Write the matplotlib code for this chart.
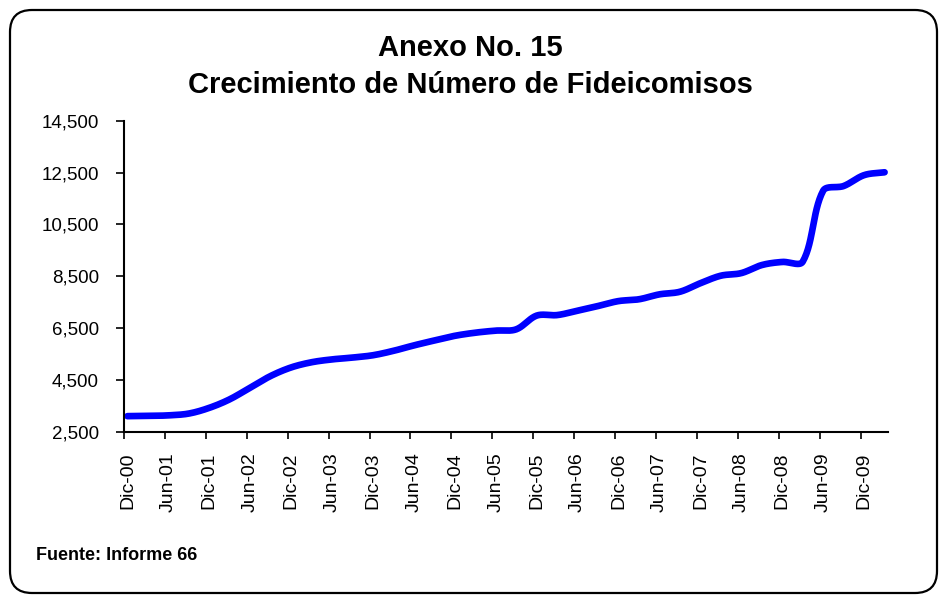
import numpy as np
import matplotlib
matplotlib.use("Agg")
import matplotlib.pyplot as plt
from matplotlib.patches import FancyBboxPatch
from matplotlib.transforms import IdentityTransform
from matplotlib.ticker import FixedLocator, NullFormatter, FuncFormatter

plt.rcParams['font.family'] = ['Liberation Sans', 'DejaVu Sans']

# Quarterly observations, months counted from Dic-00
months = list(range(0, 112, 3))
values = [3100, 3110, 3130, 3200, 3420, 3750, 4200, 4650, 4980, 5180,
          5290, 5360, 5450, 5620, 5830, 6020, 6200, 6320, 6400, 6450,
          6980, 7000, 7170, 7350, 7540, 7610, 7800, 7900, 8230, 8520,
          8620, 8930, 9050, 9060, 11800, 11980, 12400, 12510]

tick_labels = ["Dic-00", "Jun-01", "Dic-01", "Jun-02", "Dic-02", "Jun-03",
               "Dic-03", "Jun-04", "Dic-04", "Jun-05", "Dic-05", "Jun-06",
               "Dic-06", "Jun-07", "Dic-07", "Jun-08", "Dic-08", "Jun-09",
               "Dic-09"]
y_ticks = [2500, 4500, 6500, 8500, 10500, 12500, 14500]

title_1 = "Anexo No. 15"
title_2 = "Crecimiento de Número de Fideicomisos"
source = "Fuente: Informe 66"

W, H = 940, 595
X_MIN, X_MAX = -0.5, 111.5
Y_MIN, Y_MAX = 2500, 14500
AX_L, AX_R, AX_T, AX_B = 124, 888, 120.7, 431.7


def smooth(x, y, sx, sy, n=30):
    """Excel-like smoothed Bezier path, tangents scaled by chord lengths (screen space)."""
    P = np.column_stack([np.asarray(x, float) * sx, np.asarray(y, float) * sy])
    m = len(P)
    out = []
    t = np.linspace(0, 1, n, endpoint=False)[:, None]
    for i in range(m - 1):
        p1, p2 = P[i], P[i + 1]
        p0 = P[i - 1] if i > 0 else p1
        p3 = P[i + 2] if i + 2 < m else p2
        l_a = np.linalg.norm(p1 - p0)
        l_b = np.linalg.norm(p2 - p1)
        l_c = np.linalg.norm(p3 - p2)
        d1 = p2 - p0
        d2 = p3 - p1
        f1 = l_b / (l_a + l_b) / 3 if (l_a + l_b) > 0 else 0
        f2 = l_b / (l_b + l_c) / 3 if (l_b + l_c) > 0 else 0
        c1 = p1 + d1 * f1
        c2 = p2 - d2 * f2
        seg = ((1 - t) ** 3) * p1 + 3 * ((1 - t) ** 2) * t * c1 + 3 * (1 - t) * t ** 2 * c2 + t ** 3 * p2
        out.append(seg)
    out.append(P[-1:])
    pts = np.vstack(out)
    return pts[:, 0] / sx, pts[:, 1] / sy


fig = plt.figure(figsize=(W / 100, H / 100), dpi=100)
fig.patch.set_facecolor("white")

border = FancyBboxPatch((10, 2), 927, 583,
                        boxstyle="round,pad=0,rounding_size=22",
                        transform=IdentityTransform(), fill=False,
                        edgecolor="black", linewidth=1.6, clip_on=False)
fig.patches.append(border)

ax = fig.add_axes([AX_L / W, 1 - AX_B / H, (AX_R - AX_L) / W, (AX_B - AX_T) / H])

sx = (AX_R - AX_L) / (X_MAX - X_MIN)
sy = (AX_B - AX_T) / (Y_MAX - Y_MIN)
lx, ly = smooth(months, values, sx, sy)
ax.plot(lx, ly, color="#0000FF", linewidth=4.8, solid_capstyle="round",
        solid_joinstyle="round")

ax.set_xlim(X_MIN, X_MAX)
ax.set_ylim(Y_MIN, Y_MAX)

ax.xaxis.set_major_locator(FixedLocator([6 * k - 0.5 for k in range(19)]))
ax.xaxis.set_major_formatter(NullFormatter())
ax.xaxis.set_minor_locator(FixedLocator([6 * k for k in range(19)]))
ax.set_xticklabels(tick_labels, minor=True, rotation=90, fontsize=14)
ax.tick_params(axis="x", which="major", direction="out", length=5, width=1.2)
ax.tick_params(axis="x", which="minor", length=0, pad=15)

ax.set_yticks(y_ticks)
ax.yaxis.set_major_formatter(FuncFormatter(lambda v, p: f"{int(v):,}"))
ax.tick_params(axis="y", direction="out", length=6, width=1.2, labelsize=13.5, pad=12)

for s in ["top", "right"]:
    ax.spines[s].set_visible(False)
for s in ["left", "bottom"]:
    ax.spines[s].set_linewidth(1.5)

fig.text(470 / W, 1 - 48 / H, title_1, ha="center", va="center",
         fontsize=21, fontweight="bold")
fig.text(470 / W, 1 - 85 / H, title_2, ha="center", va="center",
         fontsize=21, fontweight="bold")
fig.text(36 / W, 1 - 556 / H, source, ha="left", va="center",
         fontsize=13, fontweight="bold")

fig.savefig("out.png", dpi=100)
